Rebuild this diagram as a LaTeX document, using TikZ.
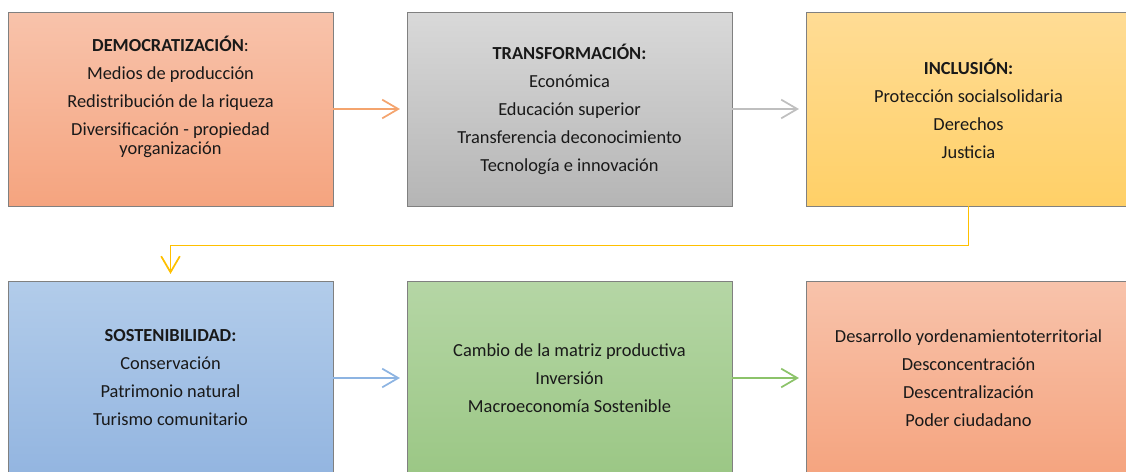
\documentclass[tikz,border=0pt]{standalone}
\usepackage{fontspec}
\setmainfont{Carlito}
\usetikzlibrary{arrows.meta}
\definecolor{salmonA}{HTML}{F8C3AB}
\definecolor{salmonB}{HTML}{F5A47F}
\definecolor{grisA}{HTML}{D9D9D9}
\definecolor{grisB}{HTML}{B5B5B5}
\definecolor{oroA}{HTML}{FFDC95}
\definecolor{oroB}{HTML}{FFD067}
\definecolor{azulA}{HTML}{B2CCEA}
\definecolor{azulB}{HTML}{93B5E0}
\definecolor{verdeA}{HTML}{B5D6A5}
\definecolor{verdeB}{HTML}{9BC785}
\definecolor{flechaNar}{HTML}{F4A46E}
\definecolor{flechaGris}{HTML}{BFBFBF}
\definecolor{flechaOro}{HTML}{FFC000}
\definecolor{flechaAzul}{HTML}{8DB4E2}
\definecolor{flechaVerde}{HTML}{8CC36A}
\begin{document}
\begin{tikzpicture}[x=0.75pt, y=-0.75pt,
           every node/.style = {align=center, text=black!90,
             font=\fontsize{13.8}{14.25}\selectfont},
           bloque/.style = {draw=black!50, line width=0.6pt, inner sep=0pt,
             minimum width=243.75pt, minimum height=145.5pt},
           flecha/.style = {-{Straight Barb[length=12pt,width=14pt]},
             line width=1.3pt, shorten >=5pt}]
  \useasboundingbox (0,0) rectangle (1126,471);
  % fila de arriba
  \node[bloque, top color=salmonA, bottom color=salmonB] (democ) at (170.5,109)
    {\textbf{DEMOCRATIZACIÓN}:\\[6.75pt] Medios de producción\\[6.75pt]
     Redistribución de la riqueza\\[6.75pt] Diversificación - propiedad\\
     yorganización\\[6.75pt]\mbox{}};
  \node[bloque, top color=grisA, bottom color=grisB] (transf) at (569.5,109)
    {\textbf{TRANSFORMACIÓN:}\\[6.75pt] Económica\\[6.75pt] Educación superior\\[6.75pt]
     Transferencia deconocimiento\\[6.75pt] Tecnología e innovación};
  \node[bloque, top color=oroA, bottom color=oroB] (inclus) at (968.5,109)
    {\textbf{INCLUSIÓN:}\\[6.75pt] Protección socialsolidaria\\[6.75pt]
     Derechos\\[6.75pt] Justicia};
  % fila de abajo
  \node[bloque, top color=azulA, bottom color=azulB] (sosten) at (170.5,378)
    {\textbf{SOSTENIBILIDAD:}\\[6.75pt] Conservación\\[6.75pt]
     Patrimonio natural\\[6.75pt] Turismo comunitario};
  \node[bloque, top color=verdeA, bottom color=verdeB] (matriz) at (569.5,378)
    {Cambio de la matriz productiva\\[6.75pt] Inversión\\[6.75pt]
     Macroeconomía Sostenible};
  \node[bloque, top color=salmonA, bottom color=salmonB] (territ) at (968.5,378)
    {Desarrollo yordenamientoterritorial\\[6.75pt] Desconcentración\\[6.75pt]
     Descentralización\\[6.75pt] Poder ciudadano};
  % conectores
  \draw[flecha, flechaNar] (democ) -- (transf);
  \draw[flecha, flechaGris] (transf) -- (inclus);
  \draw[flecha, flechaOro] (inclus.south) -- ++(0,39) -| (sosten.north);
  \draw[flecha, flechaAzul] (sosten) -- (matriz);
  \draw[flecha, flechaVerde] (matriz) -- (territ);
\end{tikzpicture}
\end{document}
